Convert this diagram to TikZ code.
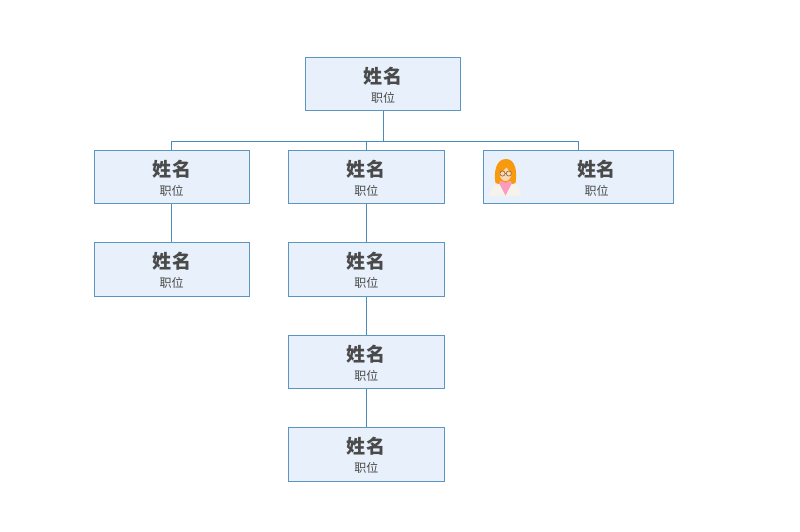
\documentclass[tikz,border=0pt]{standalone}
\usepackage{fontspec}
\setmainfont{Noto Sans CJK SC}
\definecolor{boxfill}{HTML}{E8F1FB}
\definecolor{boxline}{HTML}{5B96C2}
\definecolor{linkc}{HTML}{4A8DBB}
\definecolor{txt}{HTML}{4A4A4A}
\definecolor{hair}{HTML}{F79A0E}
\definecolor{skin}{HTML}{FBD9B5}
\definecolor{coat}{HTML}{F7F3EA}
\definecolor{pinkc}{HTML}{FA9CBE}
\newcommand{\titletext}[1]{{\fontsize{19}{21}\selectfont\bfseries #1}}
\newcommand{\subtext}[1]{{\fontsize{12}{14}\selectfont #1}}
\newcommand{\card}{\rule{0pt}{19pt}\titletext{姓\kern0.8pt 名}\\[7pt]\subtext{职位}}
\tikzset{
  x=1pt,y=-1pt,
  orgbox/.style={draw=boxline,line width=0.9pt,fill=boxfill,text=txt,align=center,
    minimum width=155.4pt,minimum height=53.5pt,inner sep=0pt,anchor=center},
  widebox/.style={orgbox,minimum width=189.6pt},
  cardtext/.style={text=txt,align=center,inner sep=0pt},
  link/.style={draw=linkc,line width=0.8pt}
}
\begin{document}
\begin{tikzpicture}
\useasboundingbox (0,0) rectangle (800,532);
\fill[white] (0,0) rectangle (800,532);
\node[orgbox] (top) at (383,84) {\card};
\node[orgbox] (a1) at (171.7,177) {\card};
\node[orgbox] (a2) at (171.7,269.3) {\card};
\node[orgbox] (b1) at (366.3,177) {\card};
\node[orgbox] (b2) at (366.3,269.3) {\card};
\node[orgbox] (b3) at (366.3,361.8) {\card};
\node[orgbox] (b4) at (366.3,454.2) {\card};
\node[widebox] (c1) at (578.3,177) {};
\node[cardtext] (c1t) at (596.5,177) {\card};
\coordinate (bus) at (383,141);
\draw[link] (top.south) -- (bus);
\draw[link] (a1.north) |- (bus);
\draw[link] (b1.north) |- (bus);
\draw[link] (c1.north) |- (bus);
\draw[link] (a1.south) -- (a2.north);
\draw[link] (b1.south) -- (b2.north);
\draw[link] (b2.south) -- (b3.north);
\draw[link] (b3.south) -- (b4.north);
% avatar
\fill[coat] (490,195.5) .. controls (490.5,188) and (494,184.5) .. (500,181.5) -- (511,181.5)
  .. controls (517,184.5) and (520.5,188) .. (521,195.5) -- cycle;
\fill[hair] (495.5,183) .. controls (493.5,172) and (496,159) .. (506,159)
  .. controls (515.5,159) and (517.5,172) .. (515.5,183)
  .. controls (511,185) and (500,185) .. (495.5,183) -- cycle;
\fill[skin] (499.5,173) .. controls (502,172) and (505,170) .. (506.5,167.5)
  .. controls (508,170) and (510,172) .. (511.5,173)
  .. controls (511.5,178) and (508.5,181) .. (505.5,181)
  .. controls (502.5,181) and (499.5,178) .. (499.5,173) -- cycle;
\fill[pinkc] (501,180.5) -- (505.5,183) -- (510,180.5) -- (512,183) -- (505.5,195.5) -- (499,183) -- cycle;
\draw[draw=brown!75!black,line width=0.6pt] (502.5,173.5) circle (2.6) (508.8,173.5) circle (2.6) (505.1,173.5) -- (506.2,173.5);
\end{tikzpicture}
\end{document}
